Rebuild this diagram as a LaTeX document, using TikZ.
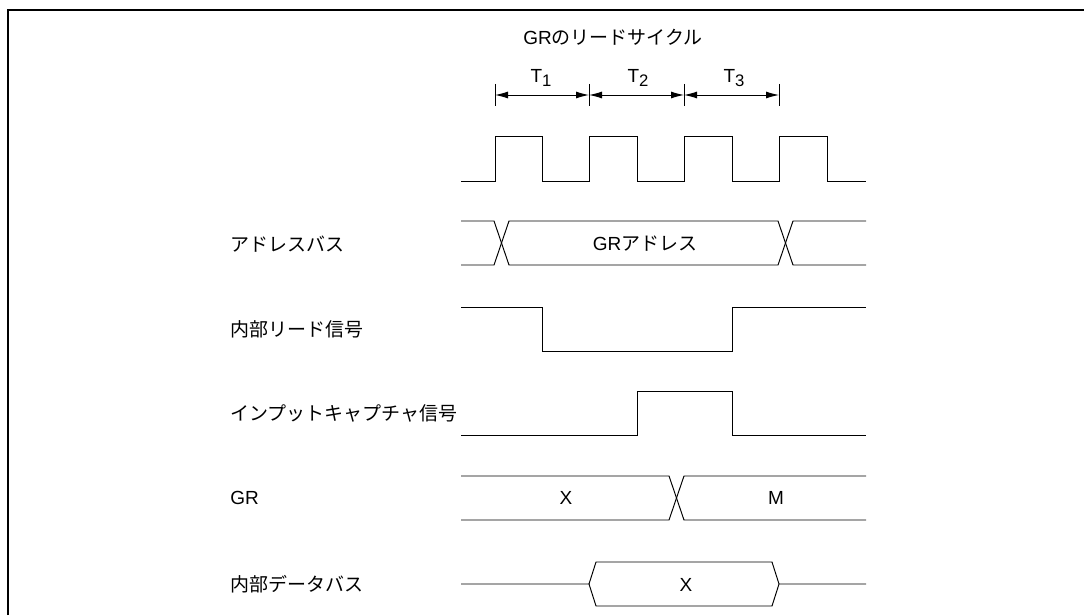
\documentclass[tikz,border=0pt]{standalone}
\usepackage{fontspec}
\setmainfont{Liberation Sans}
\newfontfamily\cjk{Noto Sans CJK JP}
\usepackage{tikz}
\usetikzlibrary{arrows.meta}
\newcommand{\tsub}[1]{\raisebox{-0.45ex}{\fontsize{9.5}{11}\selectfont #1}}

\begin{document}
\begin{tikzpicture}[x=0.02cm, y=-0.02cm,
  wave/.style={line width=0.55pt},
  sig/.style={anchor=west, inner sep=0pt, font=\fontsize{10.8}{13}\selectfont},
  txt/.style={inner sep=0pt, font=\fontsize{10.8}{13}\selectfont},
  dim/.style={line width=0.55pt, {Latex[length=0.26cm,width=0.14cm]}-{Latex[length=0.26cm,width=0.14cm]}}]
\useasboundingbox (0,0) rectangle (1084,615);
% Frame
\draw[line width=1.2pt] (8,615) -- (8,10) -- (1084,10);
% Title and periods
\node[txt] (title) at (613,37) {GR{\cjk のリードサイクル}};
\coordinate (t0) at (495,95);
\coordinate (t1) at (589,95);
\coordinate (t2) at (684,95);
\coordinate (t3) at (779,95);
\draw[wave] (495,84) -- (495,106) (589,84) -- (589,106) (684,84) -- (684,106) (779,84) -- (779,106);
\draw[dim] (t0) -- (t1);
\draw[dim] (t1) -- (t2);
\draw[dim] (t2) -- (t3);
\node[txt] (T1) at (541,78) {T\tsub{1}};
\node[txt] (T2) at (638,78) {T\tsub{2}};
\node[txt] (T3) at (734,78) {T\tsub{3}};
% Clock
\draw[wave] (461,181) -- (495,181) -- (495,136) -- (542,136) -- (542,181) -- (589,181) -- (589,136) -- (637,136) -- (637,181)
  -- (684,181) -- (684,136) -- (732,136) -- (732,181) -- (779,181) -- (779,136) -- (827,136) -- (827,181) -- (866,181);
% Address bus
\node[sig] (addr) at (230,244) {\cjk アドレスバス};
\draw[wave] (461,221) -- (494,221) -- (509,265) -- (778,265) -- (793,221) -- (866,221);
\draw[wave] (461,265) -- (494,265) -- (509,221) -- (778,221) -- (793,265) -- (866,265);
\node[txt] (grad) at (645,244) {GR{\cjk アドレス}};
% Internal read signal
\node[sig] (rd) at (230,329) {\cjk 内部リード信号};
\draw[wave] (461,307) -- (542,307) -- (542,351) -- (732,351) -- (732,307) -- (866,307);
% Input capture signal
\node[sig] (icap) at (230,413) {\cjk インプットキャプチャ信号};
\draw[wave] (461,435) -- (637,435) -- (637,391) -- (732,391) -- (732,435) -- (866,435);
% GR
\node[sig] (gr) at (230,498) {GR};
\draw[wave] (461,476) -- (669,476) -- (684,520) -- (866,520);
\draw[wave] (461,520) -- (669,520) -- (684,476) -- (866,476);
\node[txt] (grx) at (566,498) {X};
\node[txt] (grm) at (776,498) {M};
% Internal data bus
\node[sig] (db) at (230,584) {\cjk 内部データバス};
\draw[wave] (461,584) -- (589,584) -- (596,562) -- (772,562) -- (779,584) -- (866,584);
\draw[wave] (589,584) -- (596,606) -- (772,606) -- (779,584);
\node[txt] (dbx) at (686,585) {X};
\end{tikzpicture}
\end{document}
